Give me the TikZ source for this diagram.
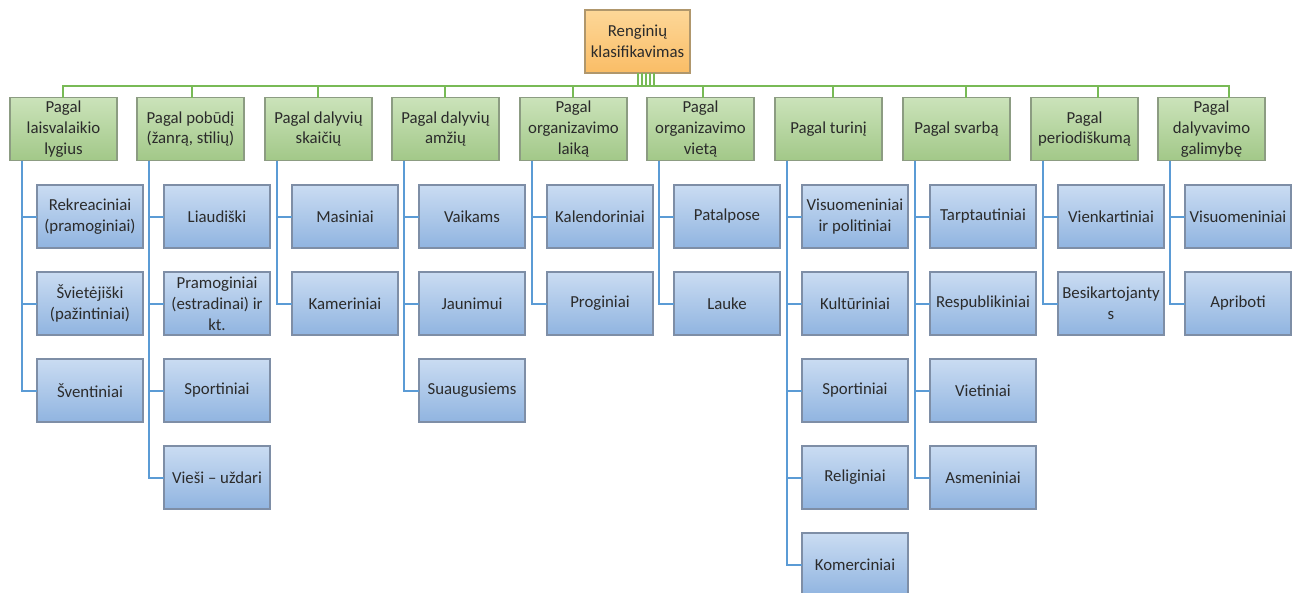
\documentclass[tikz,border=0pt]{standalone}
\usepackage{fontspec}
\setmainfont{Carlito}
\definecolor{roottop}{HTML}{FDD798}
\definecolor{rootbot}{HTML}{FABD66}
\definecolor{rootedge}{HTML}{B0976C}
\definecolor{cattop}{HTML}{CBE3BA}
\definecolor{catbot}{HTML}{A2C888}
\definecolor{catedge}{HTML}{8C9C82}
\definecolor{itemtop}{HTML}{CADCF2}
\definecolor{itembot}{HTML}{90B4E0}
\definecolor{itemedge}{HTML}{7E8EA6}
\definecolor{busgreen}{HTML}{78BA56}
\definecolor{feedblue}{HTML}{5B9BD5}
\definecolor{txt}{HTML}{2B2B2B}

% box + centred label; the label is a separate node so that
% three-line captions do not stretch the fixed-size box
\newcommand\topnode[4]{\node[rootshape] (#1) at (#2,#3) {};
  \node[boxtext] (#1-t) at (#1.center) {#4};}
\newcommand\catnode[4]{\node[catshape] (#1) at (#2,#3) {};
  \node[boxtext] (#1-t) at (#1.center) {#4};}
\newcommand\itemnode[4]{\node[itemshape] (#1) at (#2,#3) {};
  \node[boxtext] (#1-t) at (#1.center) {#4};}
% elbow from a category's spine to one of its items
\newcommand\feed[3]{\draw[feedline] (#1.south -| #2) |- (#3.west);}
% root -> bus -> category
\newcommand\busline[4]{\coordinate (r#1) at (#2,86); \coordinate (s#1) at (#3,86);
  \draw[busstyle] (root.south -| r#1) -- (r#1) -- (s#1) -- (#4.north -| s#1);}

\begin{document}
\begin{tikzpicture}[x=0.75pt,y=-0.75pt,
  every node/.style={inner sep=0pt,outer sep=0pt},
  rootshape/.style={rectangle,draw=rootedge,line width=0.8pt,top color=roottop,bottom color=rootbot,
    minimum width=78.75pt,minimum height=47.25pt},
  catshape/.style={rectangle,draw=catedge,line width=0.8pt,top color=cattop,bottom color=catbot,
    minimum width=80.25pt,minimum height=47.25pt},
  itemshape/.style={rectangle,draw=itemedge,line width=0.8pt,top color=itemtop,bottom color=itembot,
    minimum width=79.5pt,minimum height=47.25pt},
  boxtext/.style={align=center,text=txt,font=\fontsize{12.6}{15.6}\selectfont},
  busstyle/.style={draw=busgreen,line width=1.5pt},
  feedline/.style={draw=feedblue,line width=1.5pt},
]
\clip (0,0) rectangle (1298,592);
\fill[white] (0,0) rectangle (1298,592);

% spines of the categories
\foreach \n/\x in {1/22,2/149,3/277,4/404,5/532,6/659,7/787,8/915,9/1043,10/1170}
  \coordinate (v\n) at (\x,0);

% root
\topnode{root}{637.5}{41.5}{Renginių\\klasifikavimas}

% categories
\catnode{c1}{63.5}{129}{Pagal\\laisvalaikio\\lygius}
\catnode{c2}{190.5}{129}{Pagal pobūdį\\(žanrą, stilių)}
\catnode{c3}{318.5}{129}{Pagal dalyvių\\skaičių}
\catnode{c4}{445.5}{129}{Pagal dalyvių\\amžių}
\catnode{c5}{573.5}{129}{Pagal\\organizavimo\\laiką}
\catnode{c6}{700.5}{129}{Pagal\\organizavimo\\vietą}
\catnode{c7}{828.5}{129}{Pagal turinį}
\catnode{c8}{956.5}{129}{Pagal svarbą}
\catnode{c9}{1084.5}{129}{Pagal\\periodiškumą}
\catnode{c10}{1211.5}{129}{Pagal\\dalyvavimo\\galimybę}

% bus from the root to each category
\busline{1}{638}{63}{c1}
\busline{2}{638}{192}{c2}
\busline{3}{642}{318}{c3}
\busline{4}{642}{445}{c4}
\busline{5}{646}{573}{c5}
\busline{6}{646}{703}{c6}
\busline{7}{650}{833}{c7}
\busline{8}{650}{966}{c8}
\busline{9}{654}{1098}{c9}
\busline{10}{654}{1229}{c10}

% items
\itemnode{k11}{90}{216.5}{Rekreaciniai\\(pramoginiai)}
\itemnode{k12}{90}{303.5}{Švietėjiški\\(pažintiniai)}
\itemnode{k13}{90}{390.5}{Šventiniai}

\itemnode{k21}{217}{216.5}{Liaudiški}
\itemnode{k22}{217}{303.5}{Pramoginiai\\(estradinai) ir\\kt.}
\itemnode{k23}{217}{390.5}{Sportiniai}
\itemnode{k24}{217}{477.5}{Vieši – uždari}

\itemnode{k31}{345}{216.5}{Masiniai}
\itemnode{k32}{345}{303.5}{Kameriniai}

\itemnode{k41}{472}{216.5}{Vaikams}
\itemnode{k42}{472}{303.5}{Jaunimui}
\itemnode{k43}{472}{390.5}{Suaugusiems}

\itemnode{k51}{600}{216.5}{Kalendoriniai}
\itemnode{k52}{600}{303.5}{Proginiai}

\itemnode{k61}{727}{216.5}{Patalpose}
\itemnode{k62}{727}{303.5}{Lauke}

\itemnode{k71}{855}{216.5}{Visuomeniniai\\ir politiniai}
\itemnode{k72}{855}{303.5}{Kultūriniai}
\itemnode{k73}{855}{390.5}{Sportiniai}
\itemnode{k74}{855}{477.5}{Religiniai}
\itemnode{k75}{855}{564.5}{Komerciniai}

\itemnode{k81}{983}{216.5}{Tarptautiniai}
\itemnode{k82}{983}{303.5}{Respublikiniai}
\itemnode{k83}{983}{390.5}{Vietiniai}
\itemnode{k84}{983}{477.5}{Asmeniniai}

\itemnode{k91}{1111}{216.5}{Vienkartiniai}
\itemnode{k92}{1111}{303.5}{Besikartojanty\\s}

\itemnode{k101}{1238}{216.5}{Visuomeniniai}
\itemnode{k102}{1238}{303.5}{Apriboti}

% spines to items
\feed{c1}{v1}{k11} \feed{c1}{v1}{k12} \feed{c1}{v1}{k13}
\feed{c2}{v2}{k21} \feed{c2}{v2}{k22} \feed{c2}{v2}{k23} \feed{c2}{v2}{k24}
\feed{c3}{v3}{k31} \feed{c3}{v3}{k32}
\feed{c4}{v4}{k41} \feed{c4}{v4}{k42} \feed{c4}{v4}{k43}
\feed{c5}{v5}{k51} \feed{c5}{v5}{k52}
\feed{c6}{v6}{k61} \feed{c6}{v6}{k62}
\feed{c7}{v7}{k71} \feed{c7}{v7}{k72} \feed{c7}{v7}{k73} \feed{c7}{v7}{k74} \feed{c7}{v7}{k75}
\feed{c8}{v8}{k81} \feed{c8}{v8}{k82} \feed{c8}{v8}{k83} \feed{c8}{v8}{k84}
\feed{c9}{v9}{k91} \feed{c9}{v9}{k92}
\feed{c10}{v10}{k101} \feed{c10}{v10}{k102}
\end{tikzpicture}
\end{document}
